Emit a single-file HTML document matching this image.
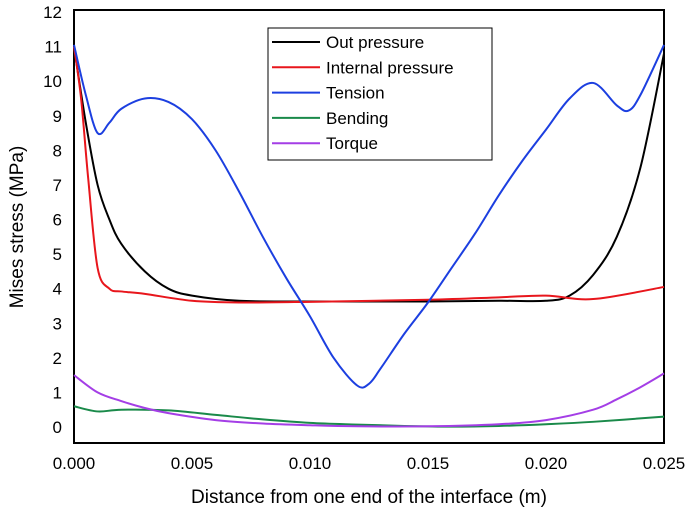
<!DOCTYPE html>
<html><head><meta charset="utf-8"><style>
body{margin:0;background:#fff;}
svg text{font-family:"Liberation Sans",Arial,sans-serif;fill:#000;}
</style></head><body>
<svg id="chart" width="685" height="516">
<g id="plot"></g>
</svg>
<script>
const xs=[0,0.0005,0.001,0.0015,0.002,0.003,0.004,0.005,0.006,0.007,0.008,0.009,0.010,0.011,0.012,0.0125,0.013,0.014,0.015,0.016,0.017,0.018,0.019,0.020,0.021,0.022,0.023,0.0235,0.024,0.025];
const blackX=[0,0.0005,0.001,0.0015,0.002,0.003,0.004,0.005,0.007,0.010,0.015,0.018,0.020,0.021,0.022,0.023,0.024,0.025];
const blackY=[11,8.8,7.0,6.0,5.3,4.5,4.0,3.8,3.65,3.63,3.63,3.65,3.65,3.8,4.4,5.5,7.5,10.8];
const redX=[0,0.0003,0.0006,0.001,0.0015,0.002,0.003,0.005,0.007,0.010,0.015,0.018,0.020,0.022,0.025];
const redY=[11,9.5,7.2,4.6,4.0,3.92,3.85,3.65,3.6,3.62,3.68,3.75,3.8,3.7,4.05];
const blueY=[11.05,9.6,8.5,8.8,9.2,9.5,9.4,8.9,8.0,6.8,5.5,4.3,3.2,2.0,1.2,1.25,1.7,2.7,3.6,4.6,5.6,6.7,7.7,8.6,9.5,9.95,9.3,9.15,9.6,11.05];
const greenX=[0,0.001,0.002,0.004,0.006,0.008,0.010,0.012,0.014,0.016,0.018,0.020,0.022,0.025];
const greenY=[0.6,0.45,0.5,0.48,0.35,0.22,0.12,0.07,0.03,0.01,0.03,0.08,0.15,0.3];
const purpleX=[0,0.001,0.002,0.003,0.004,0.006,0.008,0.010,0.012,0.015,0.018,0.020,0.022,0.023,0.024,0.025];
const purpleY=[1.5,1.0,0.75,0.55,0.4,0.2,0.1,0.05,0.02,0.02,0.08,0.2,0.5,0.8,1.15,1.55];
const yTicks=[0,1,2,3,4,5,6,7,8,9,10,11,12];
const xTicks=[0,0.005,0.010,0.015,0.020,0.025];
const xTickLabels=["0.000","0.005","0.010","0.015","0.020","0.025"];
const seriesNames=["Out pressure","Internal pressure","Tension","Bending","Torque"];

const NS="http://www.w3.org/2000/svg";
const L=74,R=664,T=10,B=443;
const X=v=>L+(v/0.025)*(R-L);
const Y=v=>427-v*34.58;
const svg=document.getElementById('chart');
function mk(tag,attrs,parent){const e=document.createElementNS(NS,tag);for(const k in attrs)e.setAttribute(k,attrs[k]);(parent||svg).appendChild(e);return e;}
function path(xa,ya){const p=xa.map((x,i)=>[X(x),Y(ya[i])]);let d=`M${p[0][0]},${p[0][1]}`;
for(let i=0;i<p.length-1;i++){const p0=p[Math.max(0,i-1)],p1=p[i],p2=p[i+1],p3=p[Math.min(p.length-1,i+2)];
d+=` C${p1[0]+(p2[0]-p0[0])/6},${p1[1]+(p2[1]-p0[1])/6} ${p2[0]-(p3[0]-p1[0])/6},${p2[1]-(p3[1]-p1[1])/6} ${p2[0]},${p2[1]}`;}return d;}
const frame=mk('rect',{x:L,y:T,width:R-L,height:B-T,fill:'none',stroke:'#000','stroke-width':2});


yTicks.forEach(v=>{const t=mk('text',{x:62,y:Y(v)+6,'text-anchor':'end','font-size':17});t.textContent=v;

});
xTicks.forEach((v,i)=>{const t=mk('text',{x:X(v),y:469,'text-anchor':'middle','font-size':17});t.textContent=xTickLabels[i];

});
const colors=['#000','#e8161c','#1c3fe0','#1a8a4a','#a43ee6'];
const data=[[blackX,blackY],[redX,redY],[xs,blueY],[greenX,greenY],[purpleX,purpleY]];
const names=['series-out-pressure','series-internal-pressure','series-tension','series-bending','series-torque'];
data.forEach((s,i)=>{const p=mk('path',{d:path(s[0],s[1]),fill:'none',stroke:colors[i],'stroke-width':2});

});
const lg=mk('rect',{x:268,y:28,width:224,height:132,fill:'#fff',stroke:'#000','stroke-width':1});


seriesNames.forEach((n,i)=>{const y=42+i*25.3;
const l=mk('line',{x1:272,x2:320,y1:y,y2:y,stroke:colors[i],'stroke-width':2});


const t=mk('text',{x:326,y:y+6,'font-size':17});t.textContent=n;

});
const yt=mk('text',{x:0,y:0,'font-size':19,'text-anchor':'middle',transform:'translate(23,227) rotate(-90)'});yt.textContent='Mises stress (MPa)';


const xt=mk('text',{x:369,y:503,'font-size':19,'text-anchor':'middle'});xt.textContent='Distance from one end of the interface (m)';


</script>
</body></html>
